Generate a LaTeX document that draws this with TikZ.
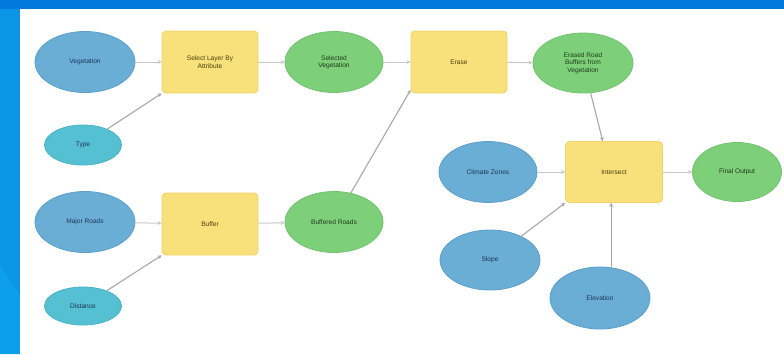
\documentclass[tikz,border=0pt]{standalone}
\usepackage{fontspec}
\setmainfont{Liberation Sans}
\usetikzlibrary{arrows.meta,shapes.geometric}
\definecolor{bgblue}{HTML}{0A95E6}
\definecolor{topblue}{HTML}{0078DC}
\definecolor{diagblue}{HTML}{0E9FEC}
\definecolor{dblue}{HTML}{6AAED6}
\definecolor{dbluebd}{HTML}{5C9FCB}
\definecolor{dcyan}{HTML}{55C0D2}
\definecolor{dcyanbd}{HTML}{48B2C6}
\definecolor{dgreen}{HTML}{7ECF7A}
\definecolor{dgreenbd}{HTML}{70C46C}
\definecolor{dyellow}{HTML}{F8E07A}
\definecolor{dyellowbd}{HTML}{EFD46A}
\definecolor{lgrey}{HTML}{A8A8A8}
\definecolor{llgrey}{HTML}{C8C8C8}
\definecolor{tblue}{HTML}{1E3550}
\definecolor{tgreen}{HTML}{1F3A1C}
\definecolor{tyellow}{HTML}{4A3F10}
\tikzset{
  base/.style={font=\fontsize{6.6}{7.4}\selectfont, align=center, inner sep=0pt, line width=0.8pt},
  inputnode/.style={base, ellipse, fill=dblue, draw=dbluebd, text=tblue, minimum width=100pt, minimum height=61pt},
  paramnode/.style={base, ellipse, fill=dcyan, draw=dcyanbd, text=tblue, minimum width=77pt, minimum height=40pt},
  outnode/.style={base, ellipse, fill=dgreen, draw=dgreenbd, text=tgreen, minimum width=98pt, minimum height=61pt},
  toolnode/.style={base, rectangle, rounded corners=4pt, fill=dyellow, draw=dyellowbd, text=tyellow, minimum width=96pt, minimum height=62pt},
  conn/.style={draw=lgrey, line width=1.1pt, -{Stealth[length=4pt,width=4pt]}},
  hconn/.style={draw=llgrey, line width=1pt, -{Stealth[length=4pt,width=4pt]}}
}
\begin{document}
\begin{tikzpicture}[x=1pt,y=-1pt]
\useasboundingbox (0,0) rectangle (784,354);
\fill[bgblue] (0,0) rectangle (784,354);
\fill[topblue] (0,0) rectangle (784,9);
\fill[diagblue] (0,265) -- (20,295) -- (20,354) -- (0,354) -- cycle;
\fill[white] (20,9) rectangle (784,354);

\node[inputnode] (veg) at (85,62) {Vegetation};
\node[toolnode] (sel) at (210,62) {Select Layer By\\Attribute};
\node[outnode] (selveg) at (334,62) {Selected\\Vegetation};
\node[paramnode] (type) at (83,145) {Type};
\node[toolnode] (erase) at (459,62) {Erase};
\node[outnode, minimum width=100pt, minimum height=60pt] (erased) at (583,63) {Erased Road\\Buffers from\\Vegetation};
\node[inputnode] (major) at (85,222) {Major Roads};
\node[toolnode] (buffer) at (210,224) {Buffer};
\node[outnode] (buffered) at (334,222) {Buffered Roads};
\node[paramnode, minimum height=38pt] (dist) at (83,306) {Distance};
\node[inputnode, minimum width=98pt] (climate) at (488,172) {Climate Zones};
\node[toolnode, minimum width=97pt, minimum height=61pt] (inter) at (614,172) {Intersect};
\node[outnode, minimum width=89pt, minimum height=59pt] (final) at (737,172) {Final Output};
\node[inputnode, minimum height=60pt] (slope) at (490,260) {Slope};
\node[inputnode, minimum height=62pt] (elev) at (600,298) {Elevation};

\draw[hconn] (veg) -- (sel);
\draw[hconn] (sel) -- (selveg);
\draw[hconn] (selveg) -- (erase);
\draw[hconn] (erase) -- (erased);
\draw[hconn] (major) -- (buffer);
\draw[hconn] (buffer) -- (buffered);
\draw[hconn] (climate) -- (inter);
\draw[hconn] (inter) -- (final);
\draw[conn] (type) -- (sel.south west);
\draw[conn] (dist) -- (buffer.south west);
\draw[conn] (buffered) -- (erase.210);
\draw[conn] (erased) -- (inter.110);
\draw[conn] (slope) -- (inter.south west);
\draw[conn] (elev.70) -- (inter.south -| elev.70);
\end{tikzpicture}
\end{document}
